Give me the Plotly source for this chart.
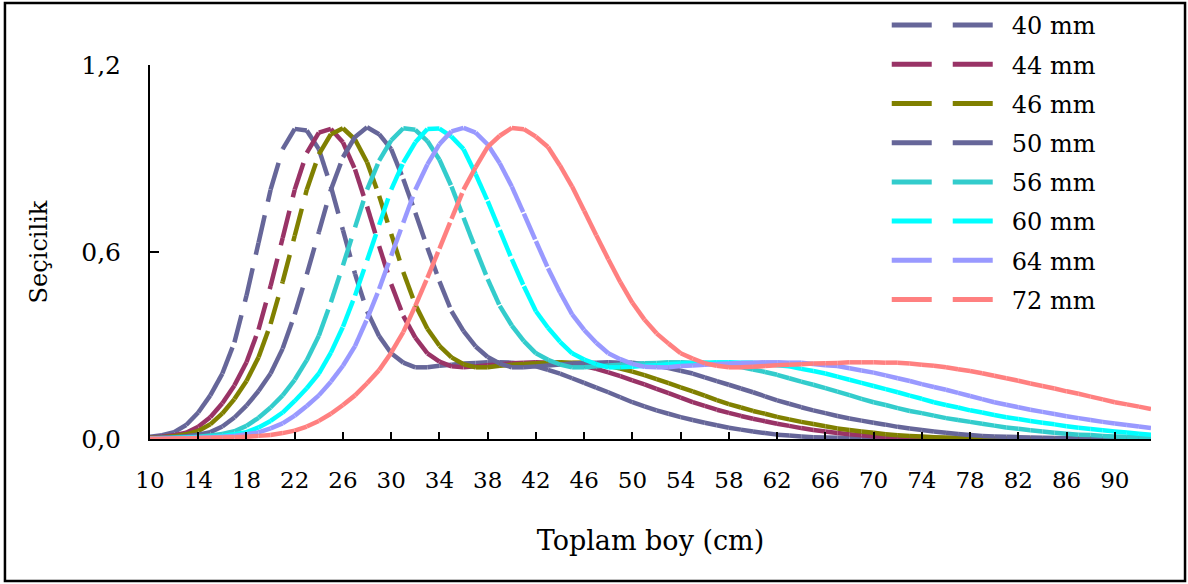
import plotly.graph_objects as go

# Total length categories (cm)
lengths = [10, 11, 12, 13, 14, 15, 16, 17, 18, 19, 20, 21, 22, 23, 24, 25, 26, 27, 28, 29,
           30, 31, 32, 33, 34, 35, 36, 37, 38, 39, 40, 41, 42, 43, 44, 45, 46, 47, 48, 49,
           50, 51, 52, 53, 54, 55, 56, 57, 58, 59, 60, 61, 62, 63, 64, 65, 66, 67, 68, 69,
           70, 71, 72, 73, 74, 75, 76, 77, 78, 79, 80, 81, 82, 83, 84, 85, 86, 87, 88, 89,
           90, 91, 92, 93]

s40 = [0.007, 0.012, 0.022, 0.045, 0.085, 0.14, 0.21, 0.31, 0.46, 0.63, 0.80, 0.93, 0.995, 0.99,
       0.93, 0.81, 0.67, 0.53, 0.41, 0.33, 0.275, 0.245, 0.23, 0.23, 0.235, 0.238, 0.242, 0.244,
       0.246, 0.246, 0.245, 0.239, 0.233, 0.222, 0.21, 0.195, 0.18, 0.165, 0.15, 0.134, 0.118,
       0.105, 0.092, 0.081, 0.07, 0.061, 0.052, 0.044, 0.036, 0.03, 0.024, 0.019, 0.014, 0.011,
       0.008, 0.006, 0.005, 0.004, 0.003, 0.002, 0.002, 0.001, 0.001,
       0, 0, 0, 0, 0, 0, 0, 0, 0, 0, 0, 0, 0, 0, 0, 0, 0, 0, 0, 0, 0]
s44 = [0.005, 0.007, 0.012, 0.020, 0.039, 0.070, 0.115, 0.172, 0.246, 0.351, 0.491, 0.645, 0.80,
       0.918, 0.983, 0.995, 0.952, 0.865, 0.746, 0.619, 0.497, 0.395, 0.325, 0.275, 0.248, 0.233,
       0.23, 0.233, 0.237, 0.240, 0.243, 0.245, 0.246, 0.245, 0.245, 0.240, 0.234, 0.225, 0.214,
       0.202, 0.188, 0.175, 0.161, 0.147, 0.133, 0.118, 0.106, 0.094, 0.084, 0.074, 0.065, 0.057,
       0.049, 0.042, 0.035, 0.029, 0.024, 0.019, 0.015, 0.012, 0.009, 0.007, 0.006, 0.005, 0.004,
       0.003, 0.002, 0.002, 0.001, 0.001,
       0, 0, 0, 0, 0, 0, 0, 0, 0, 0, 0, 0, 0, 0]
s46 = [0.004, 0.006, 0.009, 0.015, 0.026, 0.047, 0.082, 0.128, 0.186, 0.262, 0.369, 0.504, 0.652,
       0.80, 0.913, 0.978, 0.997, 0.961, 0.888, 0.780, 0.658, 0.536, 0.431, 0.354, 0.299, 0.262,
       0.240, 0.23, 0.23, 0.235, 0.238, 0.241, 0.243, 0.245, 0.246, 0.245, 0.245, 0.240, 0.235,
       0.226, 0.216, 0.205, 0.192, 0.179, 0.166, 0.153, 0.139, 0.125, 0.112, 0.101, 0.090, 0.081,
       0.071, 0.063, 0.055, 0.048, 0.041, 0.034, 0.029, 0.024, 0.020, 0.015, 0.012, 0.010, 0.008,
       0.006, 0.005, 0.004, 0.003, 0.003, 0.002, 0.002, 0.001, 0.001,
       0, 0, 0, 0, 0, 0, 0, 0, 0, 0]
s50 = [0.003, 0.005, 0.006, 0.009, 0.014, 0.022, 0.040, 0.069, 0.107, 0.154, 0.21, 0.29, 0.40,
       0.528, 0.664, 0.80, 0.904, 0.969, 1.0, 0.978, 0.93, 0.834, 0.726, 0.614, 0.506, 0.41, 0.346,
       0.297, 0.263, 0.242, 0.23, 0.23, 0.233, 0.236, 0.239, 0.242, 0.244, 0.245, 0.246, 0.245,
       0.245, 0.240, 0.235, 0.228, 0.219, 0.21, 0.198, 0.186, 0.174, 0.162, 0.15, 0.137, 0.124,
       0.113, 0.102, 0.092, 0.083, 0.074, 0.066, 0.059, 0.052, 0.046, 0.039, 0.034, 0.029, 0.024,
       0.020, 0.016, 0.013, 0.010, 0.008, 0.007, 0.006, 0.005, 0.004, 0.003, 0.003, 0.002, 0.002,
       0.001, 0.001, 0.001, 0.0, 0.0]
s56 = [0.002, 0.003, 0.004, 0.006, 0.007, 0.011, 0.016, 0.025, 0.042, 0.068, 0.101, 0.14, 0.19,
       0.253, 0.331, 0.439, 0.557, 0.679, 0.80, 0.893, 0.958, 0.997, 0.992, 0.956, 0.896, 0.81,
       0.71, 0.61, 0.513, 0.427, 0.364, 0.314, 0.275, 0.254, 0.239, 0.23, 0.23, 0.233, 0.236, 0.238,
       0.241, 0.243, 0.244, 0.246, 0.246, 0.245, 0.245, 0.241, 0.236, 0.231, 0.223, 0.215, 0.206,
       0.195, 0.184, 0.174, 0.163, 0.152, 0.141, 0.129, 0.118, 0.109, 0.099, 0.090, 0.083, 0.075,
       0.067, 0.061, 0.055, 0.049, 0.043, 0.037, 0.033, 0.028, 0.024, 0.020, 0.017, 0.014, 0.013,
       0.010, 0.008, 0.007, 0.005, 0.005]
s60 = [0.002, 0.002, 0.003, 0.004, 0.006, 0.007, 0.010, 0.015, 0.022, 0.037, 0.058, 0.085, 0.122,
       0.163, 0.21, 0.277, 0.36, 0.46, 0.573, 0.687, 0.80, 0.887, 0.952, 0.995, 0.996, 0.97, 0.93,
       0.85, 0.763, 0.67, 0.577, 0.49, 0.41, 0.357, 0.312, 0.275, 0.255, 0.240, 0.23, 0.23, 0.232,
       0.235, 0.237, 0.240, 0.242, 0.243, 0.245, 0.246, 0.246, 0.245, 0.245, 0.241, 0.237, 0.233,
       0.225, 0.218, 0.21, 0.20, 0.19, 0.18, 0.17, 0.16, 0.15, 0.139, 0.129, 0.118, 0.109, 0.101,
       0.092, 0.085, 0.077, 0.07, 0.064, 0.058, 0.052, 0.047, 0.041, 0.036, 0.032, 0.028, 0.024,
       0.021, 0.017, 0.014]
s64 = [0.001, 0.002, 0.002, 0.003, 0.004, 0.006, 0.007, 0.010, 0.015, 0.021, 0.034, 0.05, 0.075,
       0.106, 0.14, 0.184, 0.235, 0.298, 0.385, 0.481, 0.588, 0.694, 0.80, 0.881, 0.946, 0.987,
       0.998, 0.983, 0.945, 0.885, 0.81, 0.723, 0.635, 0.548, 0.47, 0.40, 0.35, 0.309, 0.275, 0.256,
       0.241, 0.232, 0.23, 0.23, 0.234, 0.236, 0.238, 0.241, 0.242, 0.244, 0.245, 0.246, 0.246,
       0.245, 0.245, 0.241, 0.237, 0.234, 0.227, 0.220, 0.213, 0.204, 0.195, 0.186, 0.176, 0.167,
       0.158, 0.148, 0.138, 0.128, 0.118, 0.11, 0.102, 0.094, 0.087, 0.08, 0.073, 0.067, 0.061,
       0.055, 0.05, 0.045, 0.04, 0.035]
s72 = [0.001, 0.001, 0.002, 0.002, 0.003, 0.004, 0.005, 0.006, 0.007, 0.010, 0.013, 0.019, 0.027,
       0.04, 0.058, 0.081, 0.109, 0.14, 0.179, 0.221, 0.277, 0.343, 0.427, 0.517, 0.611, 0.706,
       0.80, 0.872, 0.937, 0.973, 0.998, 0.994, 0.97, 0.937, 0.877, 0.81, 0.732, 0.654, 0.577,
       0.503, 0.437, 0.383, 0.339, 0.306, 0.275, 0.258, 0.243, 0.235, 0.23, 0.23, 0.232, 0.234,
       0.237, 0.238, 0.240, 0.242, 0.243, 0.244, 0.246, 0.246, 0.246, 0.245, 0.245, 0.242, 0.238,
       0.235, 0.23, 0.224, 0.218, 0.211, 0.203, 0.195, 0.187, 0.178, 0.17, 0.162, 0.153, 0.145,
       0.136, 0.127, 0.118, 0.111, 0.104, 0.096]

series_names = ["40 mm", "44 mm", "46 mm", "50 mm", "56 mm", "60 mm", "64 mm", "72 mm"]
series_values = [s40, s44, s46, s50, s56, s60, s64, s72]
series_colors = ["#666699", "#993366", "#808000", "#666699", "#33CCCC", "#00FFFF", "#9999FF", "#FF8080"]

x_ticks = [10, 14, 18, 22, 26, 30, 34, 38, 42, 46, 50, 54, 58, 62, 66, 70, 74, 78, 82, 86, 90]
y_ticks = [0.0, 0.6, 1.2]

FONT = "DejaVu Serif"

fig = go.Figure()

# Each segment between consecutive points is its own sub-path, so the dash
# pattern restarts at every data point (like the original spreadsheet chart).
for name, vals, col in zip(series_names, series_values, series_colors):
    sx, sy = [], []
    for i in range(len(lengths) - 1):
        sx += [lengths[i], lengths[i + 1], None]
        sy += [vals[i], vals[i + 1], None]
    fig.add_trace(go.Scatter(x=sx, y=sy, mode="lines", connectgaps=False,
                             line=dict(color=col, width=4.5, dash="28px,14px"),
                             showlegend=False, hoverinfo="skip", name=name))

# legend entries (dash, gap, dash, then a blank run that separates the text)
for name, col in zip(series_names, series_colors):
    fig.add_trace(go.Scatter(x=[None], y=[None], mode="lines", name=name, legendgroup=name,
                             line=dict(color=col, width=5, dash="40px,21px,40px,40px")))

fig.update_layout(
    width=1188, height=584,
    margin=dict(l=150, r=37, t=65, b=145, autoexpand=False),
    paper_bgcolor="white", plot_bgcolor="white",
    separators=", ",
    font=dict(family=FONT, color="black", size=23),
    xaxis=dict(range=[10, 93], tickvals=x_ticks, ticks="inside", ticklen=7, tickwidth=2,
               tickcolor="black", showline=True, linecolor="black", linewidth=2,
               showgrid=False, zeroline=False, tickfont=dict(family=FONT, size=23),
               ticklabelstandoff=19, automargin=False,
               title=dict(text="Toplam boy (cm)", font=dict(family=FONT, size=27), standoff=40)),
    yaxis=dict(range=[0, 1.2], tickvals=y_ticks, tickformat=".1f", ticks="inside", ticklen=9,
               tickwidth=2, tickcolor="black", showline=True, linecolor="black", linewidth=2,
               showgrid=False, zeroline=False, tickfont=dict(family=FONT, size=25),
               ticklabelstandoff=22, automargin=False,
               title=dict(text="Seçicilik", font=dict(family=FONT, size=24), standoff=27)),
    legend=dict(x=0.736, y=0.3128, xanchor="left", yanchor="bottom",
                font=dict(family=FONT, size=24), itemwidth=115, tracegroupgap=5,
                traceorder="grouped", bgcolor="rgba(0,0,0,0)"),
    shapes=[dict(type="rect", xref="paper", yref="paper", x0=-0.1449, x1=1.034,
                 y0=-0.3797, y1=1.1658, line=dict(color="black", width=2.5),
                 fillcolor="rgba(0,0,0,0)", layer="above")],
)

fig.write_html("out.html", config={"displayModeBar": False},
               post_script="document.body.style.margin='0';")
